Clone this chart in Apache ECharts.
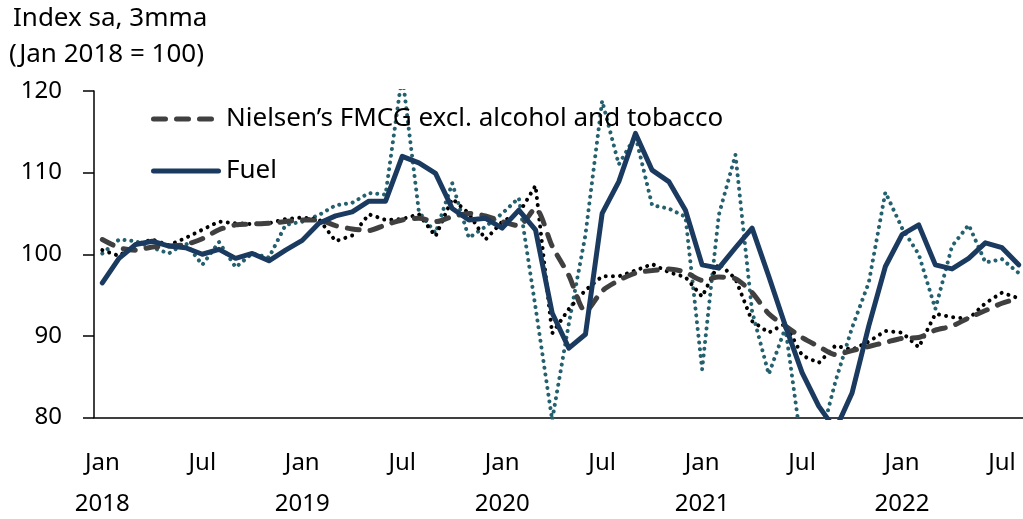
<!DOCTYPE html>
<html>
<head>
<meta charset="utf-8">
<script src="https://cdn.jsdelivr.net/npm/echarts@6/dist/echarts.min.js"></script>
<style>
html, body { margin: 0; padding: 0; background: #fff; }
#chart { width: 1023px; height: 519px; }
</style>
</head>
<body>
<div id="chart"></div>
<script>
// monthly, Jan 2018 - Aug 2022
const monthNames = ["Jan", "Feb", "Mar", "Apr", "May", "Jun", "Jul", "Aug", "Sep", "Oct", "Nov", "Dec"];
const years = [2018, 2019, 2020, 2021, 2022];
const categories = [];
years.forEach((y) => monthNames.forEach((m, i) => {
  if (y < 2022 || i < 8) categories.push(m + " " + y);
}));

const fmcg3mma = [101.8, 100.8, 100.5, 100.9, 101.0, 101.2, 101.9, 103.0, 103.6, 103.7,
  103.8, 104.0, 104.2, 104.2, 103.5, 103.1, 102.9, 103.6, 104.2, 104.4,
  104.0, 104.6, 105.0, 104.7, 104.0, 103.5, 105.6, 101.0, 97.4, 93.0,
  95.5, 96.8, 97.7, 98.0, 98.2, 97.8, 96.8, 97.2, 97.0, 95.3,
  92.7, 91.2, 89.8, 88.7, 87.7, 88.2, 88.7, 89.2, 89.7, 89.8,
  90.7, 91.2, 92.2, 93.1, 94.0, 94.6];
const fuel3mma = [96.5, 99.5, 101.2, 101.6, 101.0, 100.8, 100.0, 100.6, 99.5, 100.1,
  99.2, 100.5, 101.7, 103.8, 104.7, 105.2, 106.5, 106.5, 112.0, 111.2,
  109.9, 105.6, 104.2, 104.4, 103.2, 105.4, 103.0, 92.8, 88.5, 90.2,
  105.0, 108.9, 114.8, 110.3, 108.9, 105.4, 98.7, 98.3, 100.8, 103.2,
  97.3, 91.2, 85.5, 81.4, 78.5, 83.0, 91.2, 98.5, 102.4, 103.6,
  98.7, 98.2, 99.5, 101.4, 100.8, 98.7];
const fmcgMonthly = [100.5, 99.8, 101.2, 101.8, 101.1, 102.0, 103.0, 104.0, 103.8, 103.7,
  103.8, 104.3, 104.5, 104.3, 101.6, 102.3, 104.9, 104.2, 104.3, 104.9,
  102.2, 106.8, 105.0, 101.8, 104.0, 105.0, 108.4, 90.3, 93.3, 95.6,
  97.3, 97.3, 98.0, 98.8, 97.8, 97.2, 94.8, 98.9, 97.0, 91.8,
  90.4, 91.5, 87.6, 86.7, 88.8, 88.3, 89.3, 90.6, 90.4, 88.6,
  92.7, 92.3, 92.1, 94.0, 95.3, 94.6];
const fuelMonthly = [100.1, 101.8, 101.6, 100.8, 100.1, 101.4, 98.7, 101.5, 98.4, 100.1,
  99.6, 103.6, 104.0, 104.8, 106.0, 106.3, 107.5, 107.3, 122.0, 105.2,
  102.6, 108.7, 102.0, 103.4, 105.0, 106.9, 93.5, 79.7, 91.5, 102.4,
  118.8, 111.0, 114.5, 106.0, 105.6, 104.6, 85.9, 104.8, 112.2, 93.0,
  85.3, 91.0, 76.0, 76.5, 84.4, 91.0, 96.5, 107.6, 103.2, 100.0,
  93.3, 101.0, 103.6, 99.0, 99.4, 97.7];

const yTicks = { min: 80, max: 120, interval: 10 };
const font = "Noto Sans";

// legend swatches: three round-ended dashes, and one solid round-ended bar
const dashIcon = "path://M2.5,0h12a2.5,2.5 0 0 1 0,5h-12a2.5,2.5 0 0 1 0,-5z" +
  "M25.5,0h12a2.5,2.5 0 0 1 0,5h-12a2.5,2.5 0 0 1 0,-5z" +
  "M48.5,0h12a2.5,2.5 0 0 1 0,5h-12a2.5,2.5 0 0 1 0,-5z" +
  "M69.95,2.45h0.05v0.05h-0.05z";
const solidIcon = "path://M2.5,0h65a2.5,2.5 0 0 1 0,5h-65a2.5,2.5 0 0 1 0,-5z";

const titleText = { fontFamily: font, fontSize: 26, fontWeight: "normal", color: "#000", lineHeight: 30 };

const chart = echarts.init(document.getElementById("chart"));
chart.setOption({
  animation: false,
  textStyle: { fontFamily: font, color: "#000" },
  title: [
    { text: "Index sa, 3mma", left: 13, top: 4, padding: 0, textStyle: titleText },
    { text: "(Jan 2018 = 100)", left: 9, top: 40, padding: 0, textStyle: titleText },
  ],
  legend: {
    data: [
      { name: "Nielsen’s FMCG excl. alcohol and tobacco", icon: dashIcon },
      { name: "Fuel", icon: solidIcon },
    ],
    orient: "vertical",
    left: 151,
    top: 104,
    padding: 0,
    itemWidth: 70,
    itemHeight: 5,
    itemGap: 22,
    textStyle: { fontFamily: font, fontSize: 26, color: "#000", lineHeight: 30 },
  },
  grid: { left: 94, top: 91, width: 933, height: 326.5, outerBoundsMode: "none" },
  xAxis: {
    type: "category",
    data: categories,
    boundaryGap: true,
    axisLine: { lineStyle: { color: "#000", width: 1.5 } },
    axisTick: { interval: 5, length: 11, lineStyle: { color: "#000", width: 1.5 } },
    axisLabel: {
      interval: 5,
      margin: 25,
      fontSize: 24,
      lineHeight: 41,
      color: "#000",
      formatter: (v) => {
        const [m, y] = v.split(" ");
        return m === "Jan" ? m + "\n" + y : m;
      },
    },
  },
  yAxis: {
    type: "value",
    min: yTicks.min,
    max: yTicks.max,
    interval: yTicks.interval,
    axisLine: { show: true, lineStyle: { color: "#000", width: 1.5 } },
    axisTick: { show: true, length: 11, lineStyle: { color: "#000", width: 1.5 } },
    splitLine: { show: false },
    axisLabel: { fontSize: 24, margin: 32, color: "#000" },
  },
  series: [
    {
      name: "Fuel (monthly)",
      type: "line",
      data: fuelMonthly,
      symbol: "none",
      lineStyle: { color: "#24606e", width: 4, type: [0.01, 6.8], cap: "round" },
      z: 1,
    },
    {
      name: "FMCG (monthly)",
      type: "line",
      data: fmcgMonthly,
      symbol: "none",
      lineStyle: { color: "#000", width: 4, type: [0.01, 7.2], cap: "round" },
      z: 2,
    },
    {
      name: "Nielsen’s FMCG excl. alcohol and tobacco",
      type: "line",
      data: fmcg3mma,
      symbol: "none",
      smooth: 0.25,
      lineStyle: { color: "#404040", width: 5, type: [12, 11], cap: "round" },
      itemStyle: { color: "#404040" },
      z: 3,
    },
    {
      name: "Fuel",
      type: "line",
      data: fuel3mma,
      symbol: "none",
      lineStyle: { color: "#1b3a60", width: 5, cap: "round", join: "round" },
      itemStyle: { color: "#1b3a60" },
      z: 4,
    },
  ],
});
</script>
</body>
</html>
